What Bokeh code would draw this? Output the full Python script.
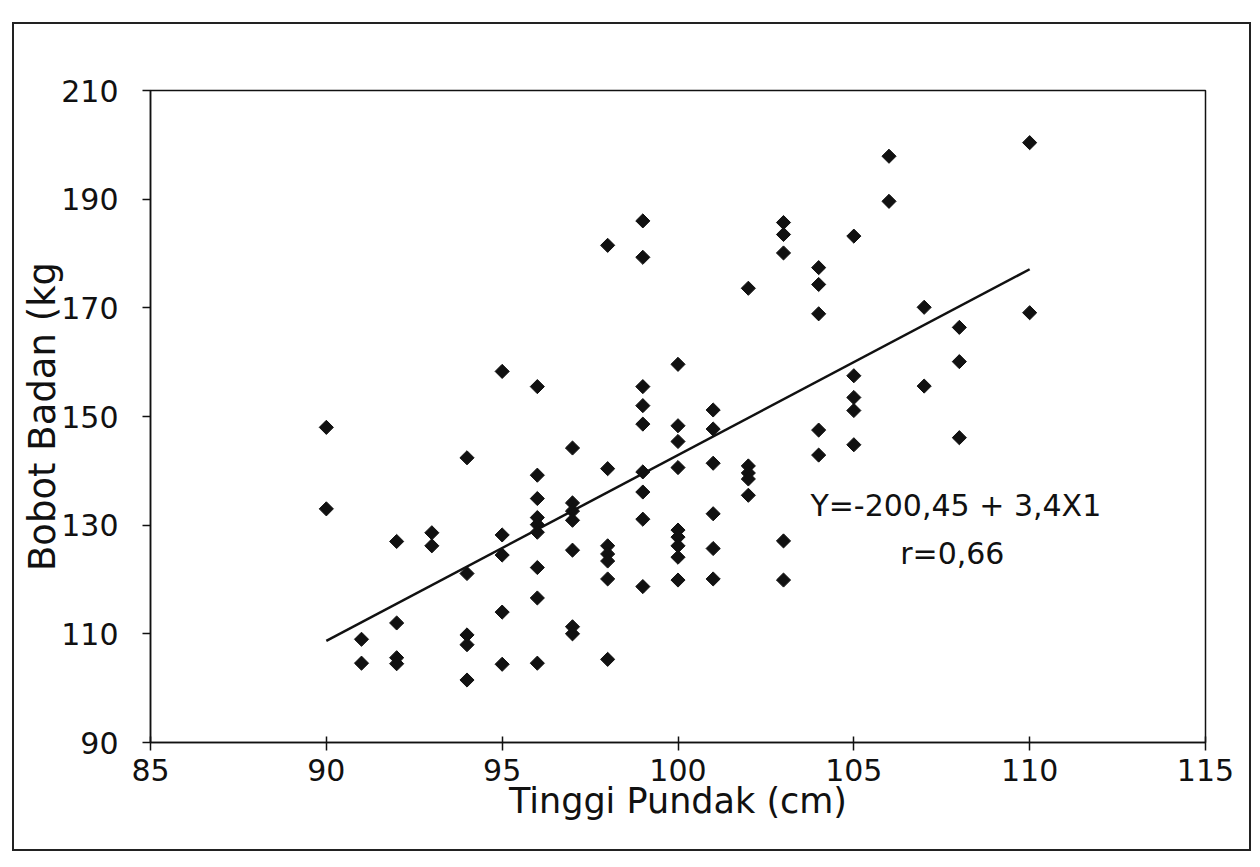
import math
from bokeh.plotting import figure
from bokeh.models import Range1d, Label, FixedTicker, ColumnDataSource
from bokeh.embed import file_html
from bokeh.resources import INLINE

# ---- data ----
x_values = (
    [90] * 2 + [91] * 2 + [92] * 4 + [93] * 2 + [94] * 5 + [95] * 5 + [96] * 9 +
    [97] * 7 + [98] * 7 + [99] * 9 + [100] * 9 + [101] * 6 + [102] * 5 +
    [103] * 5 + [104] * 5 + [105] * 5 + [106] * 2 + [107] * 2 + [108] * 3 + [110] * 2
)
y_values = [
    148, 133,
    109, 104.6,
    127, 112, 105.6, 104.5,
    128.6, 126.2,
    142.4, 121.1, 109.8, 108, 101.5,
    158.3, 128.2, 124.5, 114, 104.4,
    155.5, 139.2, 134.9, 131.4, 130.1, 128.7, 122.2, 116.6, 104.6,
    144.2, 134.1, 132.6, 130.9, 125.4, 111.3, 110,
    181.5, 140.4, 126.2, 124.7, 123.4, 120.1, 105.3,
    186, 179.3, 155.5, 152, 148.6, 139.8, 136.1, 131.1, 118.7,
    159.6, 148.3, 145.4, 140.6, 129.1, 127.8, 126.2, 124.1, 119.9,
    151.2, 147.7, 141.4, 132.1, 125.7, 120.1,
    173.6, 140.9, 139.6, 138.5, 135.5,
    185.7, 183.5, 180.1, 127.1, 119.9,
    177.4, 174.3, 168.9, 147.5, 142.9,
    183.2, 157.5, 153.5, 151.1, 144.8,
    197.9, 189.6,
    170.1, 155.6,
    166.4, 160.1, 146.1,
    200.4, 169.1,
]
trend_x = [90, 110]
trend_y = [108.7, 177.1]
x_ticks = [85, 90, 95, 100, 105, 110, 115]
y_ticks = [90, 110, 130, 150, 170, 190, 210]
equation_text = "Y=-200,45 + 3,4X1"
r_text = "r=0,66"
x_title = "Tinggi Pundak (cm)"
y_title = "Bobot Badan (kg"

FONT = "DejaVu Sans"
INK = "#111111"

p = figure(
    width=1239, height=829,
    x_range=Range1d(85, 115), y_range=Range1d(90, 210),
    output_backend="svg", toolbar_location=None,
    min_border_left=136, min_border_right=48,
    min_border_top=66, min_border_bottom=111,
    background_fill_color="white", border_fill_color="white",
)
p.margin = (22, 0, 0, 12)
p.styles = {"border": "2px solid #222222"}

p.xgrid.visible = False
p.ygrid.visible = False
p.outline_line_color = INK
p.outline_line_width = 1.5

for ax in (p.xaxis[0], p.yaxis[0]):
    ax.axis_line_color = INK
    ax.axis_line_width = 1.5
    ax.major_tick_line_color = INK
    ax.major_tick_line_width = 1.5
    ax.minor_tick_line_color = None
    ax.major_label_text_font = FONT
    ax.major_label_text_font_size = "30px"
    ax.major_label_text_color = INK
    ax.axis_label_text_font = FONT
    ax.axis_label_text_font_style = "normal"
    ax.axis_label_text_color = INK

p.xaxis.axis_label_text_font_size = "35px"
p.yaxis.axis_label_text_font_size = "37px"
p.xaxis.ticker = FixedTicker(ticks=x_ticks)
p.yaxis.ticker = FixedTicker(ticks=y_ticks)
p.xaxis.major_tick_in = 6
p.xaxis.major_tick_out = 8
p.yaxis.major_tick_in = 0
p.yaxis.major_tick_out = 8
p.xaxis.major_label_standoff = 8
p.yaxis.major_label_standoff = 24
p.xaxis.axis_label = x_title
p.yaxis.axis_label = y_title
p.xaxis.axis_label_standoff = -3
p.yaxis.axis_label_standoff = -6

src = ColumnDataSource(dict(x=x_values, y=y_values))
p.scatter("x", "y", source=src, marker="square", angle=math.pi / 4, size=10,
          fill_color=INK, line_color=INK, line_width=1)

p.line(trend_x, trend_y, line_color=INK, line_width=2.5)

p.add_layout(Label(x=107.9, y=133.6, text=equation_text, text_align="center",
                   text_baseline="middle", text_font=FONT, text_font_size="30px",
                   text_color=INK))
p.add_layout(Label(x=107.8, y=124.8, text=r_text, text_align="center",
                   text_baseline="middle", text_font=FONT, text_font_size="30px",
                   text_color=INK))

open("out.html", "w").write(file_html(p, INLINE))
